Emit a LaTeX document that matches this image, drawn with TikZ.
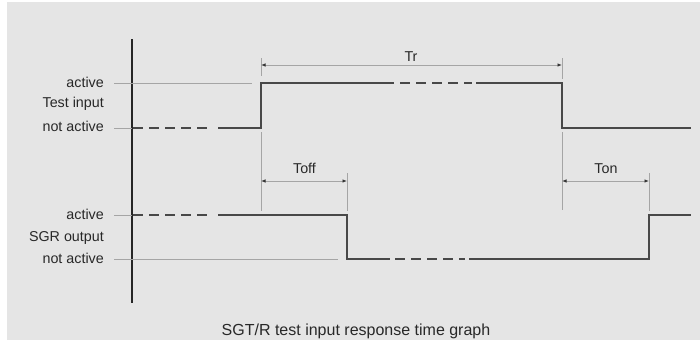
\documentclass[tikz,border=0pt]{standalone}
\usepackage{fontspec}
\setmainfont{Liberation Sans}
\usetikzlibrary{arrows.meta}
\definecolor{bggray}{RGB}{229,229,229}
\definecolor{sigcol}{RGB}{72,72,72}
\definecolor{guidecol}{RGB}{165,165,165}
\definecolor{txtcol}{RGB}{40,40,40}
\begin{document}
\begin{tikzpicture}[x=1pt,y=-1pt]
    \tikzset{lbl/.style = {anchor=base east, inner sep=0pt, text=txtcol, font=\fontsize{14.3}{16}\selectfont}}
    \tikzset{dimlbl/.style = {anchor=base, inner sep=0pt, text=txtcol, font=\fontsize{14.3}{16}\selectfont}}
    \tikzset{signal/.style = {draw=sigcol, line width=1.6pt}}
    \tikzset{guide/.style = {draw=guidecol, line width=0.8pt}}
    \tikzset{dim/.style = {guide, {Latex[length=4.5pt,width=3.5pt,color=black!80]}-{Latex[length=4.5pt,width=3.5pt,color=black!80]}}}
    \tikzset{gap/.style = {dash pattern=on 10pt off 6pt}}
    \useasboundingbox (0,0) rectangle (700,340);
    \fill[bggray] (7,2) rectangle (700,340);
    % labels
    \node[lbl] (tiA) at (104,87.5) {active};
    \node[lbl] (ti) at (104,107.7) {Test input};
    \node[lbl] (tiN) at (104,131.8) {not active};
    \node[lbl] (sgA) at (104,219.2) {active};
    \node[lbl] (sg) at (104,241.7) {SGR output};
    \node[lbl] (sgN) at (104,263.8) {not active};
    % axis
    \coordinate (axT) at (132,39);
    \coordinate (axB) at (132,303);
    \draw[line width=1.3pt, draw=black!85] (axT) -- (axB);
    % test input
    \draw[guide] (114,83) -- (252,83);
    \draw[guide] (114,128) -- (132,128);
    \draw[signal, gap] (133,128) -- (213,128);
    \draw[signal] (218,128) -- (261,128) -- (261,83) -- (394,83);
    \draw[signal, gap] (400,83) -- (472,83);
    \draw[signal] (476,83) -- (562,83) -- (562,128) -- (691,128);
    % sgr output
    \draw[guide] (114,215) -- (132,215);
    \draw[guide] (114,259) -- (338,259);
    \draw[signal, gap] (133,215) -- (213,215);
    \draw[signal] (218,215) -- (347,215) -- (347,259) -- (390,259);
    \draw[signal, gap] (395,259) -- (465,259);
    \draw[signal] (469,259) -- (649,259) -- (649,215) -- (691,215);
    % extension lines
    \draw[guide] (261,58) -- (261,76);
    \draw[guide] (261,132) -- (261,211);
    \draw[guide] (562,58) -- (562,79);
    \draw[guide] (562,132) -- (562,210);
    \draw[guide] (347,173) -- (347,211);
    \draw[guide] (649,173) -- (649,211);
    % times
    \coordinate (trL) at (261,65);
    \coordinate (trR) at (562,65);
    \coordinate (toffL) at (261,181);
    \coordinate (toffR) at (347,181);
    \coordinate (tonL) at (562,181);
    \coordinate (tonR) at (649,181);
    \draw[dim] (trL) -- (trR);
    \draw[dim] (toffL) -- (toffR);
    \draw[dim] (tonL) -- (tonR);
    \node[dimlbl] (tr) at (411,61) {Tr};
    \node[dimlbl] (toff) at (304.5,173.3) {Toff};
    \node[dimlbl] (ton) at (606,173.3) {Ton};
    % caption
    \node[anchor=base, inner sep=0pt, text=txtcol, font=\fontsize{16}{18}\selectfont] (cap) at (356,335.5) {SGT/R test input response time graph};
\end{tikzpicture}
\end{document}
